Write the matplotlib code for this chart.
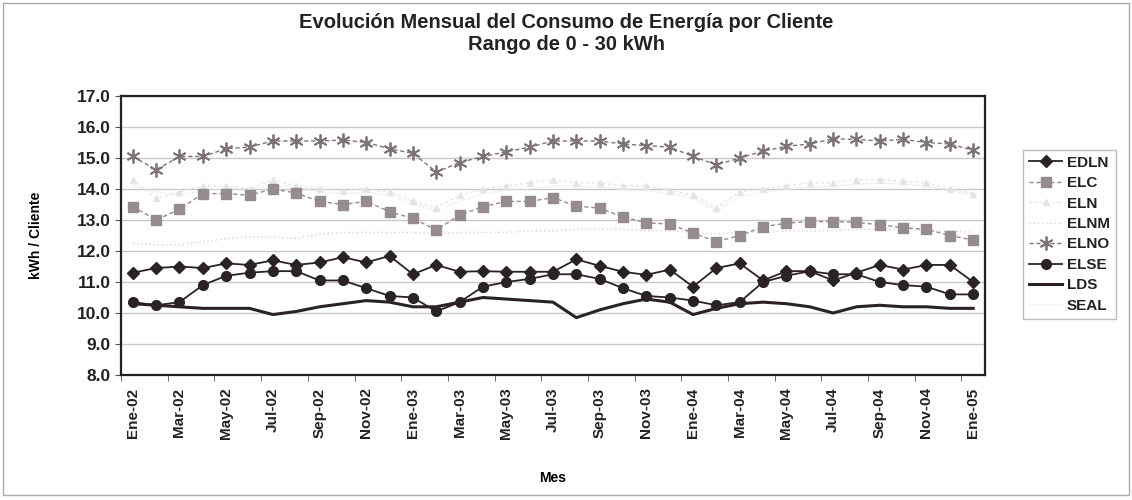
import matplotlib
matplotlib.use("Agg")
import matplotlib.pyplot as plt
import numpy as np

plt.rcParams['font.family'] = ['Liberation Sans', 'DejaVu Sans']

months = ["Ene-02","Feb-02","Mar-02","Abr-02","May-02","Jun-02","Jul-02","Ago-02","Sep-02","Oct-02","Nov-02","Dic-02",
          "Ene-03","Feb-03","Mar-03","Abr-03","May-03","Jun-03","Jul-03","Ago-03","Sep-03","Oct-03","Nov-03","Dic-03",
          "Ene-04","Feb-04","Mar-04","Abr-04","May-04","Jun-04","Jul-04","Ago-04","Sep-04","Oct-04","Nov-04","Dic-04",
          "Ene-05"]

edln = [11.3, 11.45, 11.5, 11.45, 11.6, 11.55, 11.7, 11.55, 11.63, 11.8, 11.63, 11.84,
        11.25, 11.55, 11.33, 11.35, 11.33, 11.33, 11.33, 11.73, 11.52, 11.33, 11.23, 11.4,
        10.85, 11.45, 11.6, 11.05, 11.35, 11.35, 11.05, 11.3, 11.55, 11.4, 11.55, 11.55, 11.0]
elc = [13.43, 13.0, 13.35, 13.85, 13.85, 13.8, 14.0, 13.87, 13.6, 13.5, 13.6, 13.27,
       13.05, 12.68, 13.16, 13.43, 13.6, 13.6, 13.72, 13.45, 13.38, 13.1, 12.91, 12.87,
       12.58, 12.3, 12.5, 12.78, 12.9, 12.95, 12.95, 12.92, 12.85, 12.75, 12.7, 12.5, 12.35]
eln = [14.3, 13.7, 13.9, 14.1, 14.1, 14.0, 14.3, 14.1, 14.0, 13.95, 14.0, 13.9,
       13.6, 13.4, 13.8, 14.0, 14.1, 14.2, 14.3, 14.2, 14.2, 14.1, 14.1, 13.95,
       13.8, 13.4, 13.9, 14.0, 14.1, 14.2, 14.2, 14.3, 14.3, 14.25, 14.2, 14.0, 13.85]
elnm = [12.25, 12.2, 12.2, 12.3, 12.4, 12.45, 12.45, 12.4, 12.55, 12.6, 12.6, 12.6,
        12.6, 12.55, 12.6, 12.6, 12.6, 12.65, 12.65, 12.7, 12.7, 12.7, 12.65, 12.65,
        12.6, 12.55, 12.6, 12.6, 12.65, 12.65, 12.65, 12.7, 12.7, 12.7, 12.65, 12.65, 12.6]
elno = [15.05, 14.62, 15.05, 15.05, 15.3, 15.35, 15.55, 15.55, 15.55, 15.58, 15.5, 15.3,
        15.15, 14.55, 14.85, 15.05, 15.2, 15.35, 15.55, 15.55, 15.55, 15.45, 15.4, 15.35,
        15.05, 14.78, 15.0, 15.22, 15.38, 15.45, 15.62, 15.6, 15.55, 15.6, 15.5, 15.45, 15.25]
else_ = [10.35, 10.25, 10.35, 10.9, 11.2, 11.3, 11.35, 11.35, 11.05, 11.05, 10.8, 10.55,
         10.5, 10.05, 10.35, 10.85, 11.0, 11.1, 11.25, 11.25, 11.1, 10.8, 10.55, 10.5,
         10.4, 10.25, 10.35, 11.0, 11.2, 11.35, 11.25, 11.25, 11.0, 10.9, 10.85, 10.6, 10.6]
lds = [10.3, 10.25, 10.2, 10.15, 10.15, 10.15, 9.95, 10.05, 10.2, 10.3, 10.4, 10.35,
       10.2, 10.2, 10.35, 10.5, 10.45, 10.4, 10.35, 9.85, 10.1, 10.3, 10.45, 10.35,
       9.95, 10.15, 10.3, 10.35, 10.3, 10.2, 10.0, 10.2, 10.25, 10.2, 10.2, 10.15, 10.15]
seal = [14.1, 13.9, 13.8, 13.95, 14.0, 14.0, 14.1, 14.05, 13.9, 13.85, 13.9, 13.8,
        13.5, 13.3, 13.6, 13.85, 13.95, 14.0, 14.1, 14.1, 14.05, 14.0, 13.95, 13.85,
        13.7, 13.3, 13.75, 13.9, 14.0, 14.05, 14.1, 14.15, 14.2, 14.15, 14.1, 13.95, 13.8]

fig = plt.figure(figsize=(11.32, 5.0), dpi=100)
ax = fig.add_axes([0.107, 0.25, 0.763, 0.558])

x = np.arange(len(months))

ax.plot(x, edln, color='#2a2226', lw=1.3, marker='D', ms=6, label='EDLN', zorder=5)
ax.plot(x, elc, color='#958b91', lw=1.0, ls=(0, (3, 2)), marker='s', ms=7, label='ELC', zorder=4)
ax.plot(x, eln, color='#e4e4e4', lw=1.0, ls=(0, (2, 2)), marker='^', ms=4, label='ELN', zorder=3)
ax.plot(x, elnm, color='#d4d4d4', lw=1.0, ls=(0, (1, 2)), label='ELNM', zorder=3)
ax.plot(x, elno, color='#7d7378', lw=1.0, ls=(0, (3, 2)), marker=(6, 2, 0), ms=10, mew=1.3, label='ELNO', zorder=4)
ax.plot(x, else_, color='#2a2226', lw=1.3, marker='o', ms=7, label='ELSE', zorder=5)
ax.plot(x, lds, color='#2a2226', lw=2.2, label='LDS', zorder=5)
ax.plot(x, seal, color='#e8e8e8', lw=1.0, ls=(0, (1, 1)), label='SEAL', zorder=3)

ax.set_xlim(-0.5, len(months) - 0.5)
ax.set_ylim(8, 17)
ax.set_yticks(np.arange(8, 17.01, 1))
ax.set_yticklabels([f"{v:.1f}" for v in np.arange(8, 17.01, 1)], fontsize=12.5, fontweight='bold')
ax.yaxis.grid(True, color='#c8c8c8', lw=1.0)
ax.set_axisbelow(True)

ax.set_xticks(x[::2])
ax.set_xticklabels(months[::2], rotation=90, fontsize=11, fontweight='bold')
ax.set_xticks(np.arange(-0.5, len(months), 2), minor=True)
ax.tick_params(axis='x', which='major', length=0, pad=9)
ax.tick_params(axis='x', which='minor', length=4, color='#555555')
ax.tick_params(axis='y', length=4, color='#555555', colors='#222222')
ax.tick_params(axis='x', colors='#222222')

for s in ax.spines.values():
    s.set_linewidth(1.6)
    s.set_color('#222222')

ax.set_ylabel('kWh / Cliente', fontsize=10, fontweight='bold', labelpad=24)
ax.set_xlabel('Mes', fontsize=10, fontweight='bold', labelpad=23)

fig.text(0.5, 0.955, 'Evolución Mensual del Consumo de Energía por Cliente',
         ha='center', va='center', fontsize=14.5, fontweight='bold', color='#222222')
fig.text(0.5, 0.91, 'Rango de 0 - 30 kWh', ha='center', va='center', fontsize=14.5,
         fontweight='bold', color='#222222')

leg = ax.legend(loc='upper left', bbox_to_anchor=(1.035, 0.835), frameon=True, fancybox=False,
                edgecolor='#aaaaaa', fontsize=11, handlelength=2.2, borderpad=0.4,
                labelspacing=0.42, handletextpad=0.3)
for t in leg.get_texts():
    t.set_fontweight('bold')
    t.set_color('#222222')
leg.get_frame().set_linewidth(1.0)

# outer chart border
fig.patches.append(plt.Rectangle((0.003, 0.01), 0.994, 0.985, transform=fig.transFigure,
                                 fill=False, edgecolor='#aaaaaa', lw=1.0))

fig.savefig('out.png', dpi=100)
